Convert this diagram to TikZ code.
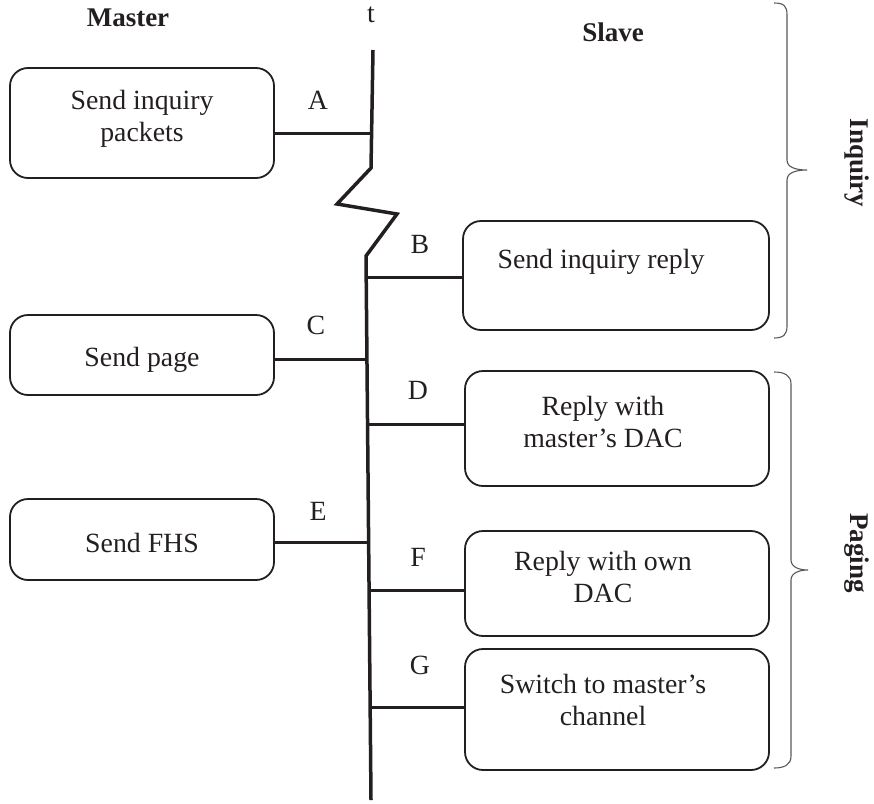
\documentclass[tikz,border=0pt]{standalone}
\usepackage{fontspec}
\setmainfont{Liberation Serif}
\definecolor{ink}{HTML}{231F20}
\begin{document}
\begin{tikzpicture}[x=1pt,y=-1pt,
  box/.style={draw=ink, line width=1.8pt, rounded corners=18pt, inner sep=0pt},
  txt/.style={text=ink, font=\fontsize{27.8}{32}\selectfont, align=center, inner sep=0pt},
  lbl/.style={text=ink, font=\fontsize{27.8}{32}\selectfont, inner sep=0pt},
  head/.style={text=ink, font=\fontsize{27}{32}\selectfont\bfseries, inner sep=0pt},
  conn/.style={draw=ink, line width=3pt},
  brc/.style={draw=ink!75, line width=1.1pt}]
\useasboundingbox (0,0) rectangle (874,803);

% headings
\node[head] (master) at (128,18) {Master};
\node[lbl] (t) at (371,15) {t};
\node[head] (slave) at (613,32) {Slave};

% timeline
\draw[draw=ink, line width=3.5pt, line join=miter]
  (373,50) -- (371,168) -- (337,204) -- (397,214) -- (366,256) -- (371,800);
\coordinate (ta) at (371.5,133);
\coordinate (tb) at (366.2,277);
\coordinate (tc) at (367,359);
\coordinate (td) at (368.5,424);
\coordinate (te) at (369.6,542);
\coordinate (tf) at (370,590);
\coordinate (tg) at (371,707);

% boxes
\node[box, minimum width=264pt, minimum height=110pt] (b1) at (142,123) {};
\node[txt] (b1t) at (142,119) {Send inquiry\\packets};
\node[box, minimum width=306pt, minimum height=109pt] (b2) at (616,275.5) {};
\node[txt] (b2t) at (601,262) {Send inquiry reply};
\node[box, minimum width=264pt, minimum height=80pt] (b3) at (142,355) {};
\node[txt] (b3t) at (142,360) {Send page};
\node[box, minimum width=304pt, minimum height=115pt] (b4) at (617,428.5) {};
\node[txt] (b4t) at (603,422) {Reply with\\master's DAC};
\node[box, minimum width=264pt, minimum height=81pt] (b5) at (142,539.5) {};
\node[txt] (b5t) at (142,543) {Send FHS};
\node[box, minimum width=304pt, minimum height=105pt] (b6) at (617,583.5) {};
\node[txt] (b6t) at (603,577) {Reply with own\\DAC};
\node[box, minimum width=304pt, minimum height=121pt] (b7) at (617,709.5) {};
\node[txt] (b7t) at (603,700) {Switch to master's\\channel};

% connectors
\draw[conn] (b1.east |- ta) -- (ta);
\draw[conn] (tb) -- (b2.west |- tb);
\draw[conn] (b3.east |- tc) -- (tc);
\draw[conn] (td) -- (b4.west |- td);
\draw[conn] (b5.east |- te) -- (te);
\draw[conn] (tf) -- (b6.west |- tf);
\draw[conn] (tg) -- (b7.west |- tg);

% letters
\node[lbl] (la) at (318,100) {A};
\node[lbl] (lb) at (420,244) {B};
\node[lbl] (lc) at (316,325) {C};
\node[lbl] (ld) at (418,390) {D};
\node[lbl] (le) at (318,511) {E};
\node[lbl] (lf) at (418,557) {F};
\node[lbl] (lg) at (420,665) {G};

% braces
\draw[brc] (774,3) .. controls (784,3) and (787,6) .. (787,15) -- (787,160)
  .. controls (787,167) and (795,170) .. (807,170)
  .. controls (795,170) and (787,173) .. (787,180) -- (787,326)
  .. controls (787,334) and (784,338) .. (774,338);
\draw[brc] (774,372) .. controls (784,372) and (791,375) .. (791,384) -- (791,560)
  .. controls (791,567) and (799,570) .. (808,570)
  .. controls (799,570) and (791,573) .. (791,580) -- (791,756)
  .. controls (791,765) and (784,768) .. (774,768);
\node[head, rotate=-90] (inq) at (857,163) {Inquiry};
\node[head, rotate=-90] (pag) at (857,553) {Paging};
\end{tikzpicture}
\end{document}
